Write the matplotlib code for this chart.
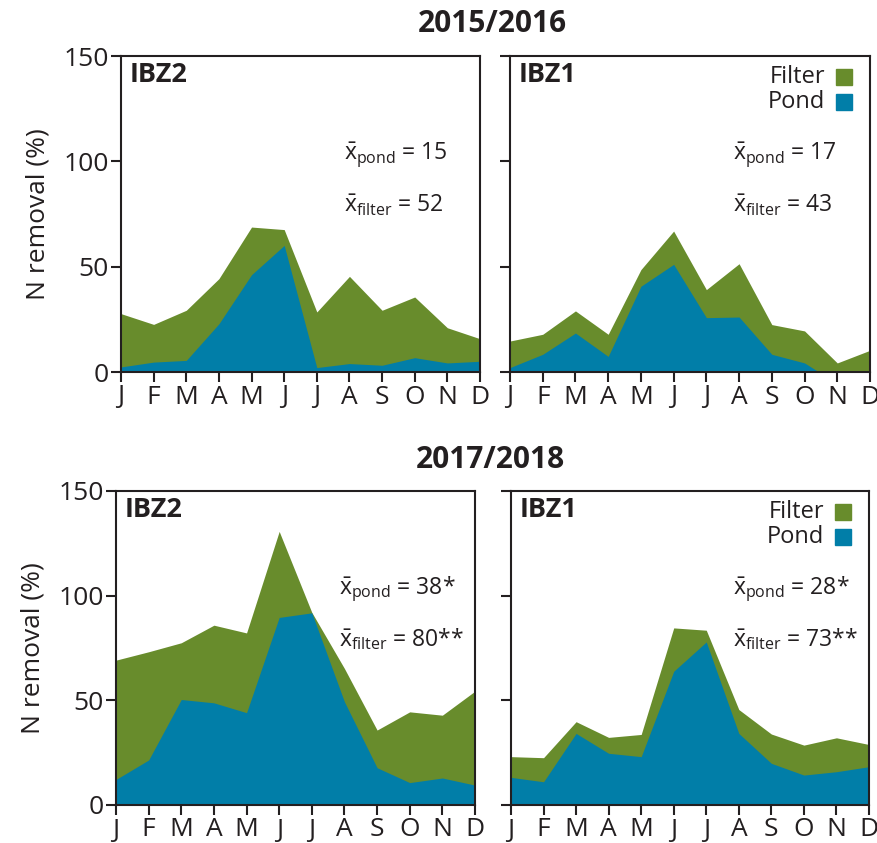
import numpy as np
import matplotlib
matplotlib.use("Agg")
import matplotlib.pyplot as plt

plt.rcParams["font.family"] = ["Open Sans", "DejaVu Sans"]
plt.rcParams["mathtext.fontset"] = "custom"
plt.rcParams["mathtext.rm"] = "Open Sans"
plt.rcParams["mathtext.it"] = "Open Sans"

months = ["J", "F", "M", "A", "M", "J", "J", "A", "S", "O", "N", "D"]

# 2015/2016
ibz2_1516_filter = [27.7, 22.6, 29.3, 44.3, 68.8, 67.6, 28.5, 45.4, 29.3, 35.6, 21.0, 15.8]
ibz2_1516_pond = [2.4, 4.7, 5.5, 22.9, 46.2, 60.1, 2.1, 4.0, 3.2, 6.8, 4.3, 5.1]
ibz1_1516_filter = [14.7, 17.9, 29.0, 17.9, 48.6, 66.9, 39.1, 51.4, 22.5, 19.5, 4.3, 10.3]
ibz1_1516_pond = [2.1, 8.4, 18.5, 7.4, 40.7, 51.1, 25.8, 26.1, 8.4, 4.3, -5.5, 1.0]

# 2017/2018
ibz2_1718_filter = [69.2, 73.2, 77.5, 85.9, 82.2, 130.7, 92.0, 65.2, 35.8, 44.5, 42.9, 54.4]
ibz2_1718_pond = [12.2, 21.5, 50.4, 48.8, 44.1, 89.6, 91.8, 49.3, 17.8, 10.7, 12.9, 9.5]
ibz1_1718_filter = [23.1, 22.6, 39.8, 32.3, 33.7, 84.6, 83.5, 45.6, 33.9, 28.6, 32.1, 28.9]
ibz1_1718_pond = [13.2, 11.1, 34.2, 24.7, 23.1, 63.9, 77.9, 34.2, 19.9, 14.3, 15.9, 18.3]

green = "#688c2c"
blue = "#017ea8"
dark = "#231f20"

W, H = 877, 843
fig = plt.figure(figsize=(W / 100, H / 100), dpi=100)


def rect(x0, x1, ytop, ybot):
    return [x0 / W, 1 - ybot / H, (x1 - x0) / W, (ybot - ytop) / H]


panels = [
    (rect(121, 480, 56, 372), "IBZ2", ibz2_1516_filter, ibz2_1516_pond, "15", "52", True, False),
    (rect(510, 870, 56, 372), "IBZ1", ibz1_1516_filter, ibz1_1516_pond, "17", "43", False, True),
    (rect(116, 475, 491, 805), "IBZ2", ibz2_1718_filter, ibz2_1718_pond, "38*", "80**", True, False),
    (rect(511, 869, 491, 805), "IBZ1", ibz1_1718_filter, ibz1_1718_pond, "28*", "73**", False, True),
]

x = np.arange(len(months))
for r, name, filt, pond, mp, mf, left, legend in panels:
    ax = fig.add_axes(r)
    ax.fill_between(x, 0, filt, color=green, linewidth=0)
    ax.fill_between(x, 0, pond, color=blue, linewidth=0)
    ax.set_xlim(0, 11)
    ax.set_ylim(0, 150)
    ax.set_xticks(x)
    ax.set_xticklabels(months, fontsize=19, color=dark)
    ax.set_yticks([0, 50, 100, 150])
    if left:
        ax.set_yticklabels(["0", "50", "100", "150"], fontsize=19, color=dark)
        ax.set_ylabel("N removal (%)", fontsize=19, color=dark, labelpad=9)
    else:
        ax.set_yticklabels([])
    for s in ax.spines.values():
        s.set_linewidth(1.5)
        s.set_color(dark)
    ax.tick_params(direction="out", length=7, width=1.5, color=dark, pad=2)
    tr = ax.get_yaxis_transform()
    ax.text(0.025, 141, name, transform=tr, fontsize=19.5,
            fontweight="bold", color=dark, va="center", ha="left")
    ax.text(0.62, 103, r"$\bar{\mathrm{x}}_{\mathrm{pond}}$ = " + mp,
            transform=tr, fontsize=16.5, color=dark, va="center")
    ax.text(0.62, 79, r"$\bar{\mathrm{x}}_{\mathrm{filter}}$ = " + mf,
            transform=tr, fontsize=16.5, color=dark, va="center")
    if legend:
        for yy, lab, c in [(140, "Filter", green), (128, "Pond", blue)]:
            ax.text(0.875, yy, lab, transform=tr, fontsize=17, color=dark,
                    ha="right", va="center")
            ax.plot([0.928], [yy], marker="s", markersize=11, color=c,
                    transform=tr, clip_on=False)

fig.text(492 / W, 1 - 24 / H, "2015/2016", fontsize=21.5, fontweight="bold",
         color=dark, ha="center", va="center")
fig.text(490 / W, 1 - 460 / H, "2017/2018", fontsize=21.5, fontweight="bold",
         color=dark, ha="center", va="center")

fig.savefig("out.png", dpi=100)
